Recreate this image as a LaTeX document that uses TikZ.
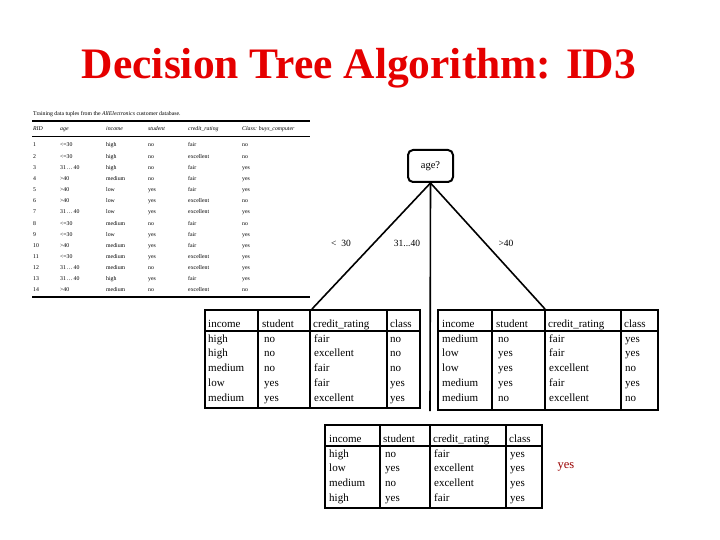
\documentclass[tikz,border=0pt]{standalone}
\usepackage{fontspec}
\setmainfont{Liberation Serif}
\begin{document}
\begin{tikzpicture}[x=1pt,y=-1pt,
  ttl/.style={font=\bfseries\fontsize{43.5}{46}\selectfont,text=red!90!black},
  tiny/.style={font=\fontsize{5.8}{6}\selectfont,anchor=base west,inner sep=0},
  cell/.style={font=\fontsize{11}{12}\selectfont,anchor=base west,inner sep=0},
  lab/.style={font=\fontsize{9.5}{10}\selectfont,inner sep=0},
  tb/.style={line width=1.6pt},
  edge/.style={line width=1.6pt}]
\useasboundingbox (0,0) rectangle (720,540);
\node[ttl] (title) at (359,68) {Decision Tree Algorithm: ID3};
% training table
\node[tiny] (tcap) at (33,116) {Training data tuples from the \textit{AllElectronics} customer database.};
\draw[line width=1.2pt] (32,121) -- (310,121);
\draw[line width=0.4pt] (32,136) -- (310,136);
\draw[line width=1.5pt] (32,297) -- (310,297);
\foreach \t [count=\i] in {RID,age,income,student,credit\_rating,Class: buys\_computer}{
  \pgfmathsetmacro\xx{{33,60,106,148,188,242}[\i-1]}
  \node[tiny,font=\itshape\fontsize{5.8}{6}\selectfont] (h\i) at (\xx,131) {\t};}
\foreach \r/\a/\b/\c/\d/\e [count=\k] in {
 1/{<=30}/high/no/fair/no, 2/{<=30}/high/no/excellent/no, 3/{31\,\dots\,40}/high/no/fair/yes,
 4/{>40}/medium/no/fair/yes, 5/{>40}/low/yes/fair/yes, 6/{>40}/low/yes/excellent/no,
 7/{31\,\dots\,40}/low/yes/excellent/yes, 8/{<=30}/medium/no/fair/no, 9/{<=30}/low/yes/fair/yes,
 10/{>40}/medium/yes/fair/yes, 11/{<=30}/medium/yes/excellent/yes, 12/{31\,\dots\,40}/medium/no/excellent/yes,
 13/{31\,\dots\,40}/high/yes/fair/yes, 14/{>40}/medium/no/excellent/no}{
  \pgfmathsetmacro\yy{147+(\k-1)*11.15}
  \node[tiny] (r\k a) at (33,\yy) {\r};
  \node[tiny] (r\k b) at (60,\yy) {\a};
  \node[tiny] (r\k c) at (106,\yy) {\b};
  \node[tiny] (r\k d) at (148,\yy) {\c};
  \node[tiny] (r\k e) at (188,\yy) {\d};
  \node[tiny] (r\k f) at (242,\yy) {\e};}
% root
\node[draw,line width=2pt,rounded corners=5pt,minimum width=45pt,minimum height=32pt,font=\fontsize{10.5}{11}\selectfont] (age) at (430.5,166) {age?};
\coordinate (lt) at (312,309);
\coordinate (rt) at (545,309);
\coordinate (mt) at (430,411);
\draw[edge] (age.south) -- (lt);
\draw[edge] (age.south) -- (rt);
\draw[edge] (age.south) -- (mt);
\node[lab] (l1) at (341,243) {<\ \ 30};
\node[lab] (l2) at (407,243) {31...40};
\node[lab] (l3) at (506,243) {>40};
% left table
\draw[tb] (205,310) rectangle (420,408);
\draw[tb] (205,331) -- (420,331);
\foreach \x in {258,310,387} \draw[tb] (\x,310) -- (\x,408);
% right table
\draw[tb] (438,310) rectangle (658,410);
\draw[tb] (438,331) -- (658,331);
\foreach \x in {492,545,621} \draw[tb] (\x,310) -- (\x,410);
% bottom table
\draw[tb] (325,425) rectangle (542,508);
\draw[tb] (325,446) -- (542,446);
\foreach \x in {380,430,506} \draw[tb] (\x,425) -- (\x,508);
% headers
\node[cell] (Lh1) at (208,327) {income}; \node[cell] (Lh2) at (262,327) {student};
\node[cell] (Lh3) at (313,327) {credit\_rating}; \node[cell] (Lh4) at (390,327) {class};
\node[cell] (Rh1) at (442,327) {income}; \node[cell] (Rh2) at (496,327) {student};
\node[cell] (Rh3) at (548,327) {credit\_rating}; \node[cell] (Rh4) at (624,327) {class};
\node[cell] (Bh1) at (329,442) {income}; \node[cell] (Bh2) at (383,442) {student};
\node[cell] (Bh3) at (433,442) {credit\_rating}; \node[cell] (Bh4) at (509,442) {class};
\foreach \a/\b/\c/\d [count=\k] in {high/no/fair/no, high/no/excellent/no, medium/no/fair/no, low/yes/fair/yes, medium/yes/excellent/yes}{
  \pgfmathsetmacro\yy{342+(\k-1)*14.8}
  \node[cell] (La\k) at (208,\yy) {\a}; \node[cell] (Lb\k) at (264,\yy) {\b};
  \node[cell] (Lc\k) at (314,\yy) {\c}; \node[cell] (Ld\k) at (390,\yy) {\d};}
\foreach \a/\b/\c/\d [count=\k] in {medium/no/fair/yes, low/yes/fair/yes, low/yes/excellent/no, medium/yes/fair/yes, medium/no/excellent/no}{
  \pgfmathsetmacro\yy{342+(\k-1)*14.8}
  \node[cell] (Ra\k) at (442,\yy) {\a}; \node[cell] (Rb\k) at (498,\yy) {\b};
  \node[cell] (Rc\k) at (549,\yy) {\c}; \node[cell] (Rd\k) at (625,\yy) {\d};}
\foreach \a/\b/\c/\d [count=\k] in {high/no/fair/yes, low/yes/excellent/yes, medium/no/excellent/yes, high/yes/fair/yes}{
  \pgfmathsetmacro\yy{457+(\k-1)*14.7}
  \node[cell] (Ba\k) at (329,\yy) {\a}; \node[cell] (Bb\k) at (385,\yy) {\b};
  \node[cell] (Bc\k) at (434,\yy) {\c}; \node[cell] (Bd\k) at (510,\yy) {\d};}
\node[font=\fontsize{12.5}{13}\selectfont,text=red!60!black,inner sep=0] (yes) at (566,467) {yes};
\end{tikzpicture}
\end{document}
